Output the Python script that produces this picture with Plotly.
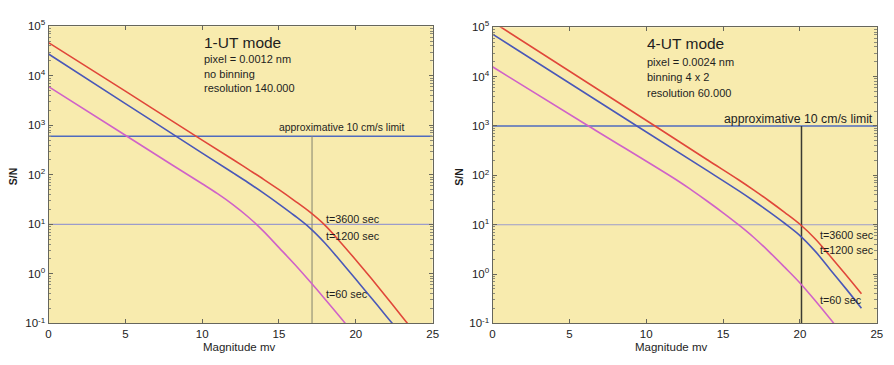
import plotly.graph_objects as go

# ---- data: limiting magnitude vs S/N for the two observing modes ----
# 1-UT mode
ut1_mag_3600 = [0, 5, 10, 12, 13, 14, 15, 16, 17, 18, 19, 20, 21, 22, 23, 23.6]
ut1_sn_3600 = [46800, 4900, 501, 204, 129, 81.3, 50.1, 30.2, 17.8, 9.55, 4.37, 1.91,
               0.813, 0.339, 0.138, 0.081]
ut1_mag_1200 = [0, 5, 10, 12, 13, 14, 15, 16, 17, 18, 19, 20, 21, 22, 22.6]
ut1_sn_1200 = [27500, 2750, 275, 110, 69.2, 42.7, 25.7, 15.1, 8.51, 4.17, 1.82, 0.776,
               0.331, 0.138, 0.083]
ut1_mag_60 = [0, 5, 8, 10, 11, 12, 13, 14, 15, 16, 17, 18, 19, 19.5]
ut1_sn_60 = [6030, 631, 162, 66.1, 41.7, 25.1, 14.1, 7.24, 3.39, 1.58, 0.708, 0.309,
             0.132, 0.085]

# 4-UT mode
ut4_mag_3600 = [0, 10.57, 14, 16, 17, 18, 19, 20, 21, 22, 23, 24]
ut4_sn_3600 = [129000, 1000, 204, 81.3, 50.1, 30.2, 17.8, 10.2, 5.13, 2.24, 0.955, 0.398]
ut4_mag_1200 = [0, 9.39, 14, 16, 17, 18, 19, 20, 21, 22, 23, 24]
ut4_sn_1200 = [72400, 1000, 123, 49, 30.2, 18.2, 10.7, 6.03, 2.88, 1.20, 0.501, 0.204]
ut4_mag_60 = [0, 6.24, 12, 13, 14, 15, 16, 17, 18, 19, 20, 21, 22, 22.5]
ut4_sn_60 = [15800, 1000, 79.4, 49, 29.5, 17.4, 10, 5.5, 2.82, 1.38, 0.661, 0.288,
             0.120, 0.076]

# reference levels
ut1_limit_sn = 600      # approximative 10 cm/s limit
ut1_limit_mag = 17.15
ut4_limit_sn = 1000
ut4_limit_mag = 20.1
sn_floor = 10           # S/N = 10 line

x_range = [0, 25]
y_range_log = [-1, 5]
x_ticks = [0, 5, 10, 15, 20, 25]
y_tickvals = [0.1, 1, 10, 100, 1000, 10000, 100000]
y_ticktext = ["10<sup>-1</sup>", "10<sup>0</sup>", "10<sup>1</sup>", "10<sup>2</sup>",
              "10<sup>3</sup>", "10<sup>4</sup>", "10<sup>5</sup>"]

ut1_info = ["pixel = 0.0012 nm", "no binning", "resolution 140.000"]
ut4_info = ["pixel = 0.0024 nm", "binning 4 x 2", "resolution 60.000"]
curve_labels = ["t=3600 sec", "t=1200 sec", "t=60 sec"]

# ---- styling ----
FONT = "Liberation Sans, Arial, Helvetica, sans-serif"
BG = "#F8EBAE"
RED = "#E0473A"
BLUE = "#4A58B8"
MAGENTA = "#D062C8"
LIMIT_BLUE = "#4F6BBE"
FLOOR = "#9C9CCB"

W, H = 894, 365


def px_x(p):
    return p / W


def px_y(p):
    return 1 - p / H


fig = go.Figure()

panels = [
    dict(xa="x", ya="y",
         curves=[(ut1_mag_3600, ut1_sn_3600, RED),
                 (ut1_mag_1200, ut1_sn_1200, BLUE),
                 (ut1_mag_60, ut1_sn_60, MAGENTA)],
         limit_sn=ut1_limit_sn, limit_mag=ut1_limit_mag,
         vcolor="#8C8C74", vwidth=1.1),
    dict(xa="x2", ya="y2",
         curves=[(ut4_mag_3600, ut4_sn_3600, RED),
                 (ut4_mag_1200, ut4_sn_1200, BLUE),
                 (ut4_mag_60, ut4_sn_60, MAGENTA)],
         limit_sn=ut4_limit_sn, limit_mag=ut4_limit_mag,
         vcolor="#3A3A32", vwidth=1.5),
]

for p in panels:
    # S/N = 10 line
    fig.add_trace(go.Scatter(x=x_range, y=[sn_floor, sn_floor], mode="lines",
                             line=dict(color=FLOOR, width=1.1),
                             xaxis=p["xa"], yaxis=p["ya"], hoverinfo="skip"))
    # velocity-precision limit (horizontal + vertical drop)
    fig.add_trace(go.Scatter(x=x_range, y=[p["limit_sn"], p["limit_sn"]], mode="lines",
                             line=dict(color=LIMIT_BLUE, width=1.6),
                             xaxis=p["xa"], yaxis=p["ya"], hoverinfo="skip"))
    fig.add_trace(go.Scatter(x=[p["limit_mag"], p["limit_mag"]],
                             y=[10 ** y_range_log[0], p["limit_sn"]], mode="lines",
                             line=dict(color=p["vcolor"], width=p["vwidth"]),
                             xaxis=p["xa"], yaxis=p["ya"], hoverinfo="skip"))
    for mx, sn, col in p["curves"]:
        fig.add_trace(go.Scatter(x=mx, y=sn, mode="lines",
                                 line=dict(color=col, width=1.6, shape="spline", smoothing=1.0),
                                 xaxis=p["xa"], yaxis=p["ya"]))

# minor ticks at 2..9 within each decade
minor_vals = [k * d for d in y_tickvals[:-1] for k in range(2, 10)]

axis_common = dict(
    showgrid=False, zeroline=False, showline=True, linecolor="#66665C", linewidth=1,
    mirror="ticks", ticks="inside", ticklen=4, tickcolor="#66665C",
    tickfont=dict(family=FONT, size=11.5, color="#222"),
)
minor_log = dict(ticks="inside", ticklen=2.5, tickcolor="#8A8A7A", showgrid=False,
                 tickmode="array", tickvals=minor_vals)

fig.update_layout(
    width=W, height=H,
    margin=dict(l=0, r=0, t=0, b=0),
    paper_bgcolor="white",
    plot_bgcolor=BG,
    showlegend=False,
    font=dict(family=FONT, color="#222"),
    xaxis=dict(domain=[px_x(46), px_x(434)], range=x_range, tickvals=x_ticks,
               anchor="y", **axis_common),
    yaxis=dict(domain=[px_y(328), px_y(19)], type="log", range=y_range_log,
               tickvals=y_tickvals, ticktext=y_ticktext, anchor="x",
               minor=minor_log, **axis_common),
    xaxis2=dict(domain=[px_x(494.5), px_x(882.7)], range=x_range, tickvals=x_ticks,
                anchor="y2", **axis_common),
    yaxis2=dict(domain=[px_y(328), px_y(20)], type="log", range=y_range_log,
                tickvals=y_tickvals, ticktext=y_ticktext, anchor="x2",
                minor=minor_log, **axis_common),
)

ann = []


def text(xref, yref, x, y, s, size, xanchor="left", **kw):
    ann.append(dict(xref=xref, yref=yref, x=x, y=y, text=s, showarrow=False,
                    xanchor=xanchor, yanchor="middle",
                    font=dict(family=FONT, size=size, color="#1E1E1E"), **kw))


# left panel texts (y given as log10 on the log axis)
text("x", "y", 10.0, 4.67, "1-UT mode", 15.5)
for s, ly in zip(ut1_info, [4.33, 4.04, 3.75]):
    text("x", "y", 10.0, ly, s, 11)
text("x", "y", 14.9, 2.96, "approximative 10 cm/s limit", 10.4)
for s, ly in zip(curve_labels, [1.10, 0.77, -0.40]):
    text("x", "y", 17.95, ly, s, 10.8)

# right panel texts
text("x2", "y2", 9.9, 4.67, "4-UT mode", 15.5)
for s, ly in zip(ut4_info, [4.30, 3.99, 3.67]):
    text("x2", "y2", 9.9, ly, s, 11)
text("x2", "y2", 14.9, 3.15, "approximative 10 cm/s limit", 12.3)
for s, ly in zip(curve_labels, [0.79, 0.48, -0.52]):
    text("x2", "y2", 21.15, ly, s, 10.8)

# axis titles
for cx in (238, 675):
    text("paper", "paper", px_x(cx), px_y(353), "Magnitude mv", 11.5, xanchor="center")
for cx in (10, 461):
    text("paper", "paper", px_x(cx), px_y(175), "<b>S/N</b>", 10.5, xanchor="center", textangle=-90)

fig.update_layout(annotations=ann)

fig.write_html("out.html")
